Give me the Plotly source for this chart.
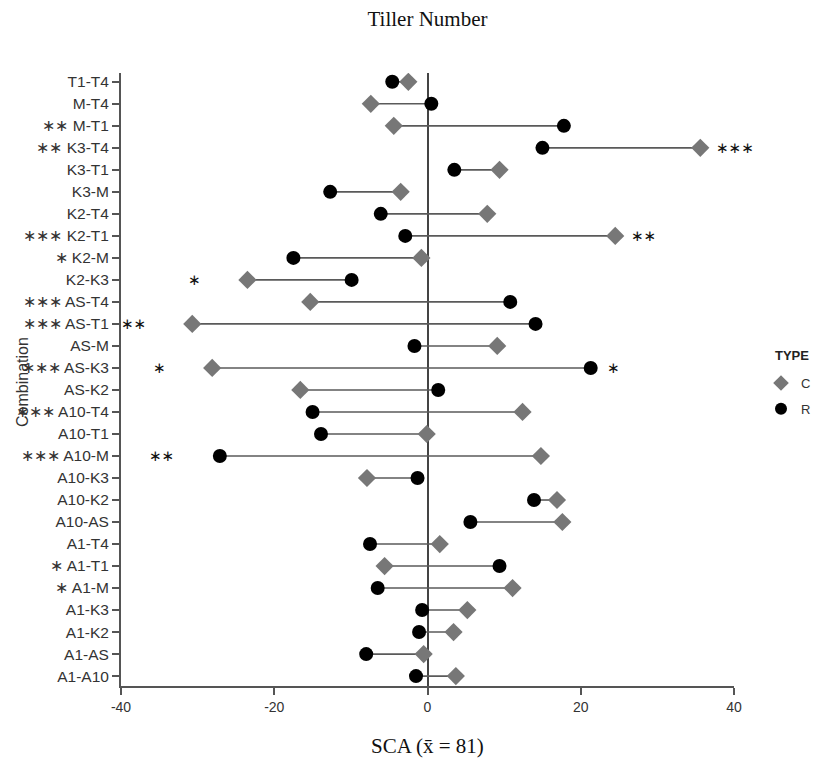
import plotly.graph_objects as go

# Categories bottom -> top
combos = ["A1-A10", "A1-AS", "A1-K2", "A1-K3", "A1-M", "A1-T1", "A1-T4",
          "A10-AS", "A10-K2", "A10-K3", "A10-M", "A10-T1", "A10-T4",
          "AS-K2", "AS-K3", "AS-M", "AS-T1", "AS-T4",
          "K2-K3", "K2-M", "K2-T1", "K2-T4",
          "K3-M", "K3-T1", "K3-T4", "M-T1", "M-T4", "T1-T4"]

# SCA values, type C (diamond) and type R (circle)
c_vals = [3.7, -0.5, 3.4, 5.2, 11.1, -5.6, 1.6,
          17.6, 16.9, -7.9, 14.8, -0.1, 12.4,
          -16.6, -28.1, 9.1, -30.7, -15.3,
          -23.5, -0.8, 24.5, 7.8,
          -3.5, 9.4, 35.6, -4.4, -7.4, -2.5]
r_vals = [-1.5, -8.0, -1.1, -0.7, -6.5, 9.4, -7.5,
          5.6, 13.9, -1.3, -27.1, -13.9, -15.0,
          1.4, 21.3, -1.7, 14.1, 10.8,
          -9.9, -17.5, -2.9, -6.1,
          -12.7, 3.5, 15.0, 17.8, 0.5, -4.6]

# Significance markers: next to the label, left of the lowest mark, right of the highest mark
sig_label = ["", "", "", "", "*", "*", "",
             "", "", "", "***", "", "***",
             "", "***", "", "***", "***",
             "", "*", "***", "",
             "", "", "**", "**", "", ""]
sig_left = ["", "", "", "", "", "", "",
            "", "", "", "**", "", "",
            "", "*", "", "**", "",
            "*", "", "", "",
            "", "", "", "", "", ""]
sig_right = ["", "", "", "", "", "", "",
             "", "", "", "", "", "",
             "", "*", "", "", "",
             "", "", "**", "",
             "", "", "***", "", "", ""]

x_ticks = [-40, -20, 0, 20, 40]
x_ticklabels = ["-40", "-20", "0", "20", "40"]

STAR = "\u2217"


def stars(s):
    return STAR * len(s)


# connecting segments
seg_x, seg_y = [], []
for cat, c, r in zip(combos, c_vals, r_vals):
    seg_x += [c, r, None]
    seg_y += [cat, cat, None]

fig = go.Figure()
fig.add_trace(go.Scatter(x=seg_x, y=seg_y, mode="lines",
                         line=dict(color="#5a5a5a", width=1.6),
                         showlegend=False, hoverinfo="skip"))
fig.add_trace(go.Scatter(x=c_vals, y=combos, mode="markers", name="C",
                         legendgroup="C",
                         marker=dict(symbol="diamond", size=14, color="#777777",
                                     line=dict(width=0))))
fig.add_trace(go.Scatter(x=r_vals, y=combos, mode="markers", name="R",
                         legendgroup="R",
                         marker=dict(symbol="circle", size=14, color="#000000",
                                     line=dict(width=0))))

ticktext = [(stars(s) + " " if s else "") + cat for s, cat in zip(sig_label, combos)]

annotations = []
for cat, c, r, sl, sr in zip(combos, c_vals, r_vals, sig_left, sig_right):
    if sl:
        annotations.append(dict(x=min(c, r), y=cat, xref="x", yref="y", text=stars(sl),
                                showarrow=False, xanchor="right", xshift=-44,
                                font=dict(family="DejaVu Sans", size=15, color="#111")))
    if sr:
        annotations.append(dict(x=max(c, r), y=cat, xref="x", yref="y", text=stars(sr),
                                showarrow=False, xanchor="left", xshift=14,
                                font=dict(family="DejaVu Sans", size=15, color="#111")))

annotations.append(dict(text="SCA (x\u0304 = 81)", xref="paper", yref="paper",
                        x=0.5, y=-0.098, xanchor="center", yanchor="middle",
                        showarrow=False,
                        font=dict(family="Liberation Serif", size=21, color="#111")))
annotations.append(dict(text="Combination", xref="paper", yref="paper",
                        x=(22 - 121) / 613, y=(686 - 382) / 613, xanchor="center",
                        yanchor="middle", textangle=-90, showarrow=False,
                        font=dict(family="Liberation Sans", size=16, color="#333")))
annotations.append(dict(text="<b>TYPE</b>", xref="paper", yref="paper",
                        x=(773 - 121) / 613, y=(686 - 355) / 613, xanchor="left",
                        yanchor="middle", showarrow=False,
                        font=dict(family="Liberation Sans", size=13, color="#222")))

fig.update_layout(
    width=816, height=766,
    margin=dict(l=121, r=82, t=73, b=80, autoexpand=False),
    plot_bgcolor="white", paper_bgcolor="white",
    title=dict(text="Tiller Number", x=0.5 * (121 + 734) / 816, xanchor="center",
               y=1 - 19 / 766, yanchor="middle",
               font=dict(family="Liberation Serif", size=21, color="#111")),
    xaxis=dict(range=[-40, 40], tickvals=x_ticks, ticktext=x_ticklabels,
               showgrid=False, zeroline=True,
               zerolinecolor="#444", zerolinewidth=2,
               showline=True, linecolor="#555", linewidth=2,
               ticks="outside", ticklen=7, tickwidth=2, tickcolor="#555",
               tickfont=dict(family="Liberation Sans", size=14, color="#333")),
    yaxis=dict(type="category", categoryorder="array", categoryarray=combos,
               tickvals=combos, ticktext=ticktext,
               range=[-0.45, len(combos) - 0.6], showgrid=False,
               showline=True, linecolor="#555", linewidth=2,
               ticks="outside", ticklen=7, tickwidth=2, tickcolor="#555",
               tickfont=dict(family="Liberation Sans", size=15.5, color="#333")),
    legend=dict(x=(761 - 121) / 613, y=(686 - 396) / 613, xanchor="left",
                yanchor="middle", tracegroupgap=6,
                font=dict(family="Liberation Sans", size=13, color="#333"),
                itemsizing="constant", bgcolor="rgba(0,0,0,0)"),
    annotations=annotations,
    showlegend=True,
)

fig.write_html("out.html")
